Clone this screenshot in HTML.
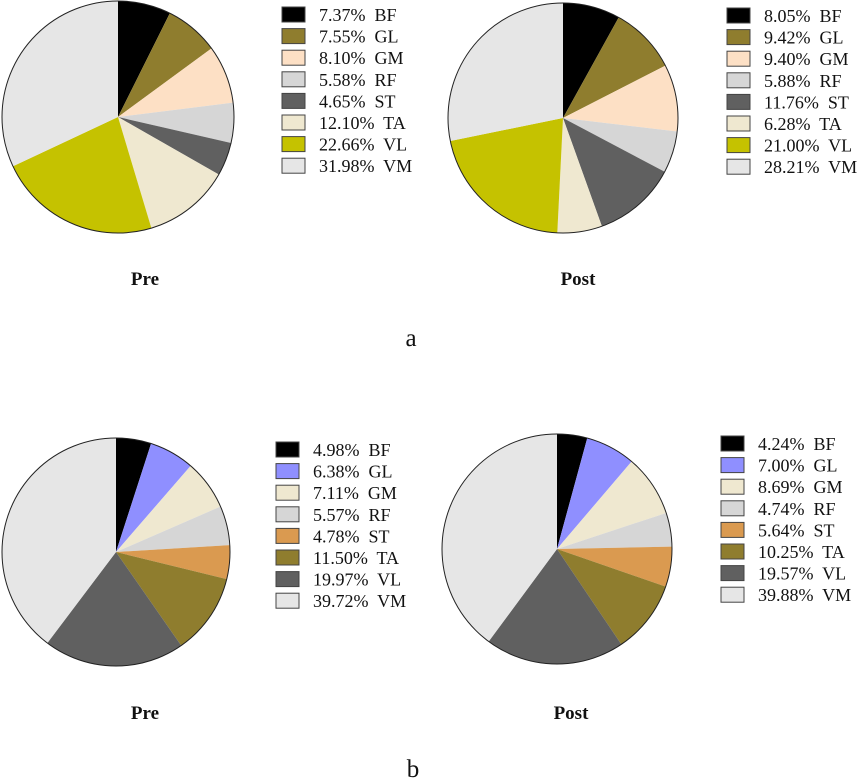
<!DOCTYPE html>
<html><head><meta charset="utf-8"><style>
html,body{margin:0;padding:0;background:#fff;}
svg{display:block;}
text{font-family:"Liberation Serif",serif;}
</style></head><body>
<svg id="chart" width="865" height="783" viewBox="0 0 865 783"></svg>
<script>
const muscles = ["BF","GL","GM","RF","ST","TA","VL","VM"];
const preA = [7.37,7.55,8.10,5.58,4.65,12.10,22.66,31.98];
const postA = [8.05,9.42,9.40,5.88,11.76,6.28,21.00,28.21];
const preB = [4.98,6.38,7.11,5.57,4.78,11.50,19.97,39.72];
const postB = [4.24,7.00,8.69,4.74,5.64,10.25,19.57,39.88];
const colorsA = ["#000000","#8f7d2e","#fde0c5","#d6d6d6","#606060","#efe8d0","#c5c200","#e6e6e6"];
const colorsB = ["#000000","#8f8fff","#efe8d0","#d6d6d6","#da9a50","#8f7d2e","#606060","#e6e6e6"];
const svg = document.getElementById('chart');
const NS = "http://www.w3.org/2000/svg";
function mk(tag, attrs){const e=document.createElementNS(NS,tag);for(const k in attrs)e.setAttribute(k,attrs[k]);svg.appendChild(e);return e;}
function pie(cx,cy,r,vals,colors,name,lx,ly,title,tx,ty){
  const total=vals.reduce((a,b)=>a+b,0);
  let a0=0;
  vals.forEach((v,i)=>{
    const a1=a0+v/total*2*Math.PI;
    const x0=cx+r*Math.sin(a0),y0=cy-r*Math.cos(a0),x1=cx+r*Math.sin(a1),y1=cy-r*Math.cos(a1);
    const large=(a1-a0)>Math.PI?1:0;
    const p=mk('path',{d:`M${cx},${cy}L${x0},${y0}A${r},${r} 0 ${large} 1 ${x1},${y1}Z`,fill:colors[i],stroke:'none'});
    
    
    a0=a1;
  });
  const c=mk('circle',{cx:cx,cy:cy,r:r,fill:'none',stroke:'#222','stroke-width':1});
  
  
  vals.forEach((v,i)=>{
    const y=ly+i*21.6;
    const s=mk('rect',{x:lx,y:y-8,width:23,height:15,fill:colors[i],stroke:'#444','stroke-width':1});
    
    
    const t=mk('text',{x:lx+37,y:y+6,'font-size':18,fill:'#111'});
    t.textContent=v.toFixed(2)+'%  '+muscles[i];
    t.style.whiteSpace='pre';
    
    
  });
  const tt=mk('text',{x:tx,y:ty,'font-size':19,'font-weight':'bold','text-anchor':'middle',fill:'#111'});
  tt.textContent=title;
  
  
}
pie(118,117,116,preA,colorsA,'a-pre',282,15,'Pre',145,285);
pie(563,118,115,postA,colorsA,'a-post',727,16,'Post',578,285);
pie(116,552,114,preB,colorsB,'b-pre',276,450,'Pre',145,719);
pie(557,549,115,postB,colorsB,'b-post',721,444,'Post',571,719);
const la=mk('text',{x:411,y:346,'font-size':25,'text-anchor':'middle',fill:'#111'});
la.textContent='a';


const lb=mk('text',{x:413,y:777,'font-size':25,'text-anchor':'middle',fill:'#111'});
lb.textContent='b';


</script>
</body></html>
